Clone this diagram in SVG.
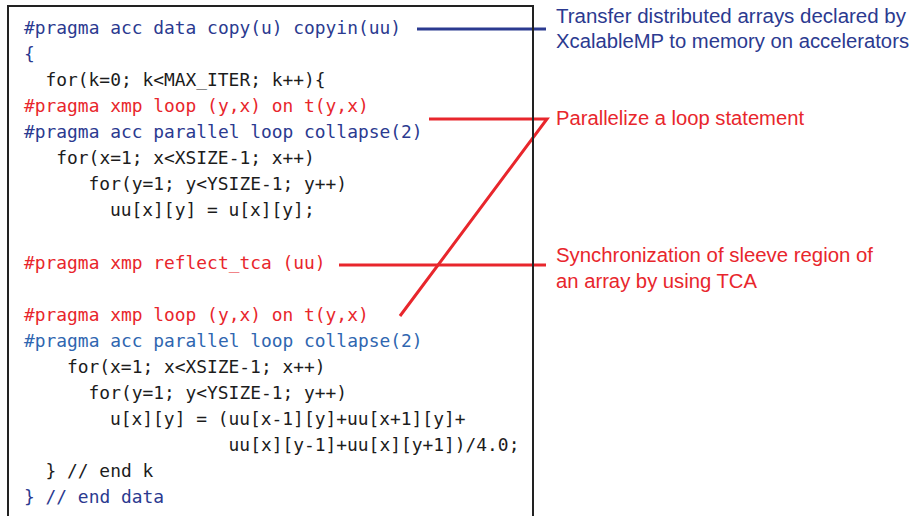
<svg xmlns="http://www.w3.org/2000/svg" width="912" height="516" viewBox="0 0 912 516">
  <style>
    .code { font-family: "DejaVu Sans Mono", "Liberation Mono", monospace; font-size: 17.9px; white-space: pre; }
    .note { font-family: "Liberation Sans", "Noto Sans", sans-serif; font-size: 20px; }
    .k { fill: #1c1c1c; }
    .acc { fill: #2b3a90; }
    .acc2 { fill: #2f66b0; }
    .xmp { fill: #e8262c; }
    .nb { fill: #2b3a90; }
    .nr { fill: #e8262c; }
    .lb { stroke: #2b3a90; stroke-width: 3; fill: none; }
    .lr { stroke: #e8262c; stroke-width: 3; fill: none; stroke-linejoin: miter; }
  </style>

  <rect width="912" height="516" fill="#ffffff"/>

  <!-- connectors from pragmas to their explanations -->
  <g id="connectors">
    <line class="lb" x1="417" y1="29" x2="546" y2="29"/>
    <polyline class="lr" points="429,119 547,119 400,316"/>
    <line class="lr" x1="339" y1="265" x2="546" y2="265"/>
  </g>

  <!-- source listing -->
  <g id="code">
    <rect x="8" y="6" width="525" height="520" fill="none" stroke="#222222" stroke-width="2"/>
    <text class="code acc" x="24" y="34">#pragma acc data copy(u) copyin(uu)</text>
    <text class="code acc" x="24" y="60">{</text>
    <text class="code k" x="45.5" y="86">for(k=0; k&lt;MAX_ITER; k++){</text>
    <text class="code xmp" x="24" y="112">#pragma xmp loop (y,x) on t(y,x)</text>
    <text class="code acc" x="24" y="138">#pragma acc parallel loop collapse(2)</text>
    <text class="code k" x="56.3" y="164">for(x=1; x&lt;XSIZE-1; x++)</text>
    <text class="code k" x="88.6" y="190">for(y=1; y&lt;YSIZE-1; y++)</text>
    <text class="code k" x="110" y="216">uu[x][y] = u[x][y];</text>
    <text class="code xmp" x="24" y="269">#pragma xmp reflect_tca (uu)</text>
    <text class="code xmp" x="24" y="321">#pragma xmp loop (y,x) on t(y,x)</text>
    <text class="code acc2" x="24" y="347">#pragma acc parallel loop collapse(2)</text>
    <text class="code k" x="67" y="373">for(x=1; x&lt;XSIZE-1; x++)</text>
    <text class="code k" x="88.6" y="399">for(y=1; y&lt;YSIZE-1; y++)</text>
    <text class="code k" x="110" y="425">u[x][y] = (uu[x-1][y]+uu[x+1][y]+</text>
    <text class="code k" x="228.6" y="451">uu[x][y-1]+uu[x][y+1])/4.0;</text>
    <text class="code k" x="45.5" y="477">} // end k</text>
    <text class="code acc" x="24" y="503">} // end data</text>
  </g>

  <g id="note-transfer">
    <text class="note nb" x="556" y="23" textLength="350" lengthAdjust="spacingAndGlyphs">Transfer distributed arrays declared by</text>
    <text class="note nb" x="556" y="48" textLength="353" lengthAdjust="spacingAndGlyphs">XcalableMP to memory on accelerators</text>
  </g>

  <g id="note-loop">
    <text class="note nr" x="556" y="125" textLength="248" lengthAdjust="spacingAndGlyphs">Parallelize a loop statement</text>
  </g>

  <g id="note-reflect">
    <text class="note nr" x="556" y="262" textLength="317" lengthAdjust="spacingAndGlyphs">Synchronization of sleeve region of</text>
    <text class="note nr" x="556" y="288" textLength="201" lengthAdjust="spacingAndGlyphs">an array by using TCA</text>
  </g>
</svg>
